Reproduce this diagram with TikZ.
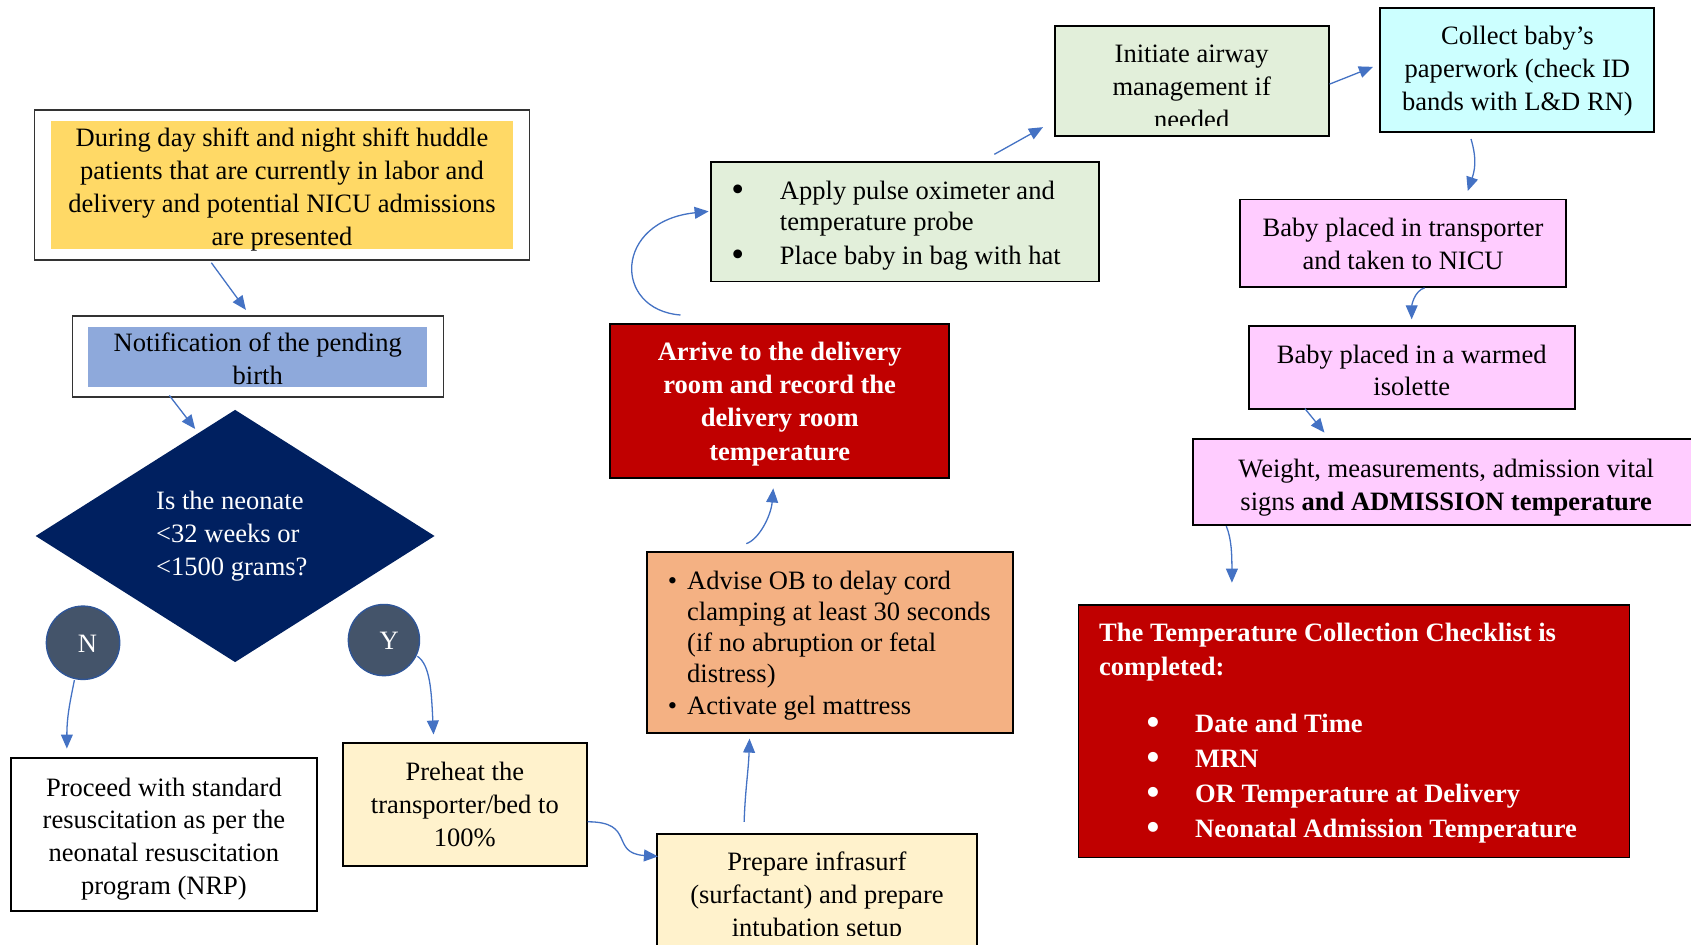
\documentclass[tikz,border=0pt]{standalone}
\usepackage{fontspec}
\setmainfont{Liberation Serif}
\usetikzlibrary{shapes.geometric,arrows.meta,calc}

\definecolor{huddleyellow}{HTML}{FFD966}
\definecolor{notifblue}{HTML}{8EA9DB}
\definecolor{navy}{HTML}{002060}
\definecolor{slate}{HTML}{44546A}
\definecolor{ringblue}{HTML}{2F5597}
\definecolor{cream}{HTML}{FFF2CC}
\definecolor{peach}{HTML}{F4B183}
\definecolor{alertred}{HTML}{C00000}
\definecolor{palegreen}{HTML}{E2EFDA}
\definecolor{palecyan}{HTML}{CCFFFF}
\definecolor{palepink}{HTML}{FFCCFF}
\definecolor{flowblue}{HTML}{4472C4}

\newcommand\figfont{\fontsize{24.6}{30.5}\selectfont}
% large list bullet, as set by a word processor's symbol font
\newcommand\bigdot{\raisebox{-2.2pt}{\fontsize{34}{34}\selectfont\textbullet}}

\tikzset{
  stepbox/.style={draw=black, line width=1.8pt, rectangle, inner sep=0pt},
  outerframe/.style={draw=black!80, line width=1.3pt, rectangle, inner sep=0pt},
  panel/.style={rectangle, inner sep=0pt, align=center, font=\figfont},
  listtext/.style={inner sep=0pt, align=left, font=\figfont},
  answer/.style={circle, fill=slate, draw=ringblue, line width=1.3pt, text=white, inner sep=0pt, font=\figfont},
  flow/.style={draw=flowblue, line width=1.2pt, -{Triangle[length=13pt,width=11pt]}},
}

\begin{document}
\begin{tikzpicture}[x=1pt,y=-1pt]
\useasboundingbox (0,0) rectangle (1568,876);
\fill[white] (0,0) rectangle (1568,876);

% --- left column: huddle, notification, decision ---
\node[outerframe, minimum width=459pt, minimum height=139pt] (huddleframe) at (261.5,171.5) {};
\node[panel, fill=huddleyellow, minimum width=429pt, minimum height=119pt] (huddle) at (261.5,171.5) {};
\node[panel] (huddletext) at ($(huddle)+(0,4)$)
  {During day shift and night shift huddle\\patients that are currently in labor and\\delivery and potential NICU admissions\\are presented};

\node[outerframe, minimum width=344pt, minimum height=75pt] (notifframe) at (239,330.5) {};
\node[panel, fill=notifblue, minimum width=314pt, minimum height=56pt] (notif) at (239,331) {};
\node[panel] (notiftext) at ($(notif)+(0,2)$) {Notification of the pending\\birth};

\node[diamond, fill=navy, minimum width=370pt, minimum height=234pt, inner sep=0pt] (decision) at (218,497) {};
\node[listtext, text=white] (decisiontext) at ($(decision)+(-3,0)$)
  {Is the neonate\\<32 weeks or\\<1500 grams?};

\node[answer, minimum size=68pt] (no) at (77,596) {};
\node[panel, text=white] (notext) at ($(no)+(4,1)$) {N};
\node[answer, minimum size=66pt] (yes) at (356,593.5) {};
\node[panel, text=white] (yestext) at ($(yes)+(5,1)$) {Y};

\node[stepbox, fill=white, minimum width=284pt, minimum height=142pt] (proceed) at (152,774) {};
\node[panel] (proceedtext) at ($(proceed)+(0,4)$)
  {Proceed with standard\\resuscitation as per the\\neonatal resuscitation\\program (NRP)};

\node[stepbox, fill=cream, minimum width=226pt, minimum height=114pt] (preheat) at (431,746) {};
\node[panel] (preheattext) at (preheat) {Preheat the\\transporter/bed to\\100\%};

% --- middle column ---
\node[stepbox, fill=cream, minimum width=297pt, minimum height=112pt] (prepare) at (757.5,829) {};
\begin{scope}
  \clip (609,773) rectangle (906,867);
  \node[panel] (preparetext) at ($(prepare)+(0,2.5)$)
    {Prepare infrasurf\\(surfactant) and prepare\\intubation setup};
\end{scope}

\node[stepbox, fill=peach, minimum width=339pt, minimum height=168pt] (advise) at (769.5,596) {};
\node[listtext, anchor=west, font=\fontsize{24.6}{28.6}\selectfont] (advisetext) at (619,599)
  {\makebox[18pt][l]{\textbullet}Advise OB to delay cord\\
   \hspace*{18pt}clamping at least 30 seconds\\
   \hspace*{18pt}(if no abruption or fetal\\
   \hspace*{18pt}distress)\\[1.5pt]
   \makebox[18pt][l]{\textbullet}Activate gel mattress};

\node[stepbox, fill=alertred, minimum width=314pt, minimum height=143pt] (arrive) at (723,371.5) {};
\node[panel, text=white, font={\fontsize{24.6}{31}\selectfont\bfseries}] (arrivetext) at ($(arrive)+(0,3)$)
  {Arrive to the delivery\\room and record the\\delivery room\\temperature};

\node[stepbox, fill=palegreen, minimum width=360pt, minimum height=111pt] (apply) at (839,205.5) {};
\node[listtext, anchor=west, font=\fontsize{24.6}{29}\selectfont] (applytext) at (678,209)
  {\makebox[45pt][l]{\bigdot}Apply pulse oximeter and\\
   \hspace*{45pt}temperature probe\\[2pt]
   \makebox[45pt][l]{\bigdot}Place baby in bag with hat};

\node[stepbox, fill=palegreen, minimum width=254pt, minimum height=102pt] (initiate) at (1105,75) {};
\begin{scope}
  \clip (978,24) rectangle (1232,116);
  \node[panel] (initiatetext) at ($(initiate)+(0,5.5)$) {Initiate airway\\management if\\needed};
\end{scope}

% --- right column ---
\node[stepbox, fill=palecyan, minimum width=254pt, minimum height=115pt] (collect) at (1407,64.5) {};
\node[panel] (collecttext) at ($(collect)+(0,1.5)$)
  {Collect baby’s\\paperwork (check ID\\bands with L\&D RN)};

\node[stepbox, fill=palepink, minimum width=302pt, minimum height=81pt] (transport) at (1301,225.5) {};
\node[panel] (transporttext) at ($(transport)+(0,1)$) {Baby placed in transporter\\and taken to NICU};

\node[stepbox, fill=palepink, minimum width=302pt, minimum height=77pt] (isolette) at (1309,340.5) {};
\node[panel] (isolettetext) at ($(isolette)+(0,3)$) {Baby placed in a warmed\\isolette};

\node[stepbox, fill=palepink, minimum width=470pt, minimum height=80pt] (weight) at (1341,447) {};
\node[panel] (weighttext) at ($(weight)+(0,5)$)
  {Weight, measurements, admission vital\\signs \textbf{and ADMISSION temperature}};

\node[stepbox, fill=alertred, line width=1.4pt, minimum width=511pt, minimum height=234pt] (checklist) at (1255.5,678) {};
\node[listtext, anchor=west, text=white, font={\fontsize{24.6}{32.5}\selectfont\bfseries}] (checklisttext) at (1019,680)
  {The Temperature Collection Checklist is\\[-1.5pt]
   completed:\\[20.5pt]
   \hspace*{44pt}\makebox[45pt][l]{\bigdot}Date and Time\\
   \hspace*{44pt}\makebox[45pt][l]{\bigdot}MRN\\
   \hspace*{44pt}\makebox[45pt][l]{\bigdot}OR Temperature at Delivery\\
   \hspace*{44pt}\makebox[45pt][l]{\bigdot}Neonatal Admission Temperature};

% --- connectors ---
\draw[flow] ($(huddleframe.south)+(-65.5,2)$) -- ($(notifframe.north)+(-11,-5)$);
\draw[flow] ($(notifframe.south)+(-82,-2)$) -- ($(decision.north)+(-37,18)$);
\draw[flow] ($(no.south)+(-8,0)$) .. controls +(-4,20) and +(0,-30) .. ($(proceed.north)+(-90,-8)$);
\draw[flow] ($(yes.center)+(31,15)$) .. controls +(12,8) and +(-2,-40) .. ($(preheat.north)+(-29,-7)$);
\draw[flow] ($(preheat.east)+(0,16)$) .. controls +(45,0) and +(-45,-3) .. ($(prepare.north west)+(2,22)$);
\draw[flow] ($(prepare.north)+(-67.5,-10)$) .. controls +(1,-30) and +(-1,30) .. ($(advise.south)+(-74.5,4)$);
\draw[flow] ($(advise.north)+(-77.5,-7)$) .. controls +(12,-4) and +(-2,25) .. ($(arrive.south)+(-6,9)$);
\draw[flow] ($(arrive.north)+(-92,-7)$) .. controls +(-63,-5) and +(-88,9) .. ($(apply.west)+(-1,-9.5)$);
\draw[flow] ($(apply.north)+(83,-6)$) -- ($(initiate.south west)+(-10,-9)$);
\draw[flow] ($(initiate.east)+(0,3)$) -- ($(collect.west)+(-6,-2.5)$);
\draw[flow] ($(collect.south)+(-43,6)$) .. controls +(6,20) and +(6,-18) .. ($(transport.north)+(60,-7)$);
\draw[flow] ($(transport.south)+(20,0)$) .. controls +(-10,3) and +(0,-12) .. ($(isolette.north)+(0,-5)$);
\draw[flow] ($(isolette.south)+(-99,-1)$) -- ($(weight.north west)+(123,-5)$);
\draw[flow] ($(weight.south west)+(32,0)$) .. controls +(5,12) and +(0,-25) .. ($(checklist.north west)+(143,-20)$);
\end{tikzpicture}
\end{document}
